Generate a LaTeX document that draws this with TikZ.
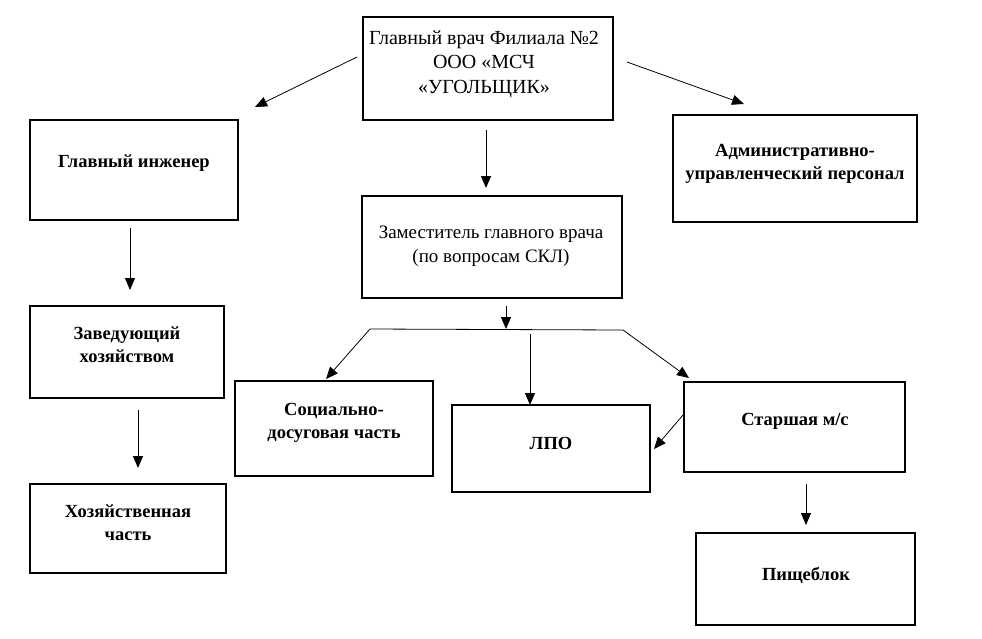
\documentclass[tikz,border=0pt]{standalone}
\usepackage{fontspec}
\setmainfont{Liberation Serif}
\usetikzlibrary{arrows.meta}
\tikzset{
  box/.style={draw, line width=1.6pt, inner sep=0pt},
  reg/.style={font=\fontsize{19}{24.5}\selectfont, align=center, inner sep=0pt},
  bld/.style={font=\fontsize{18.5}{23}\selectfont\bfseries, align=center, inner sep=0pt},
  arr/.style={line width=0.8pt, -{Triangle[length=12pt,width=10pt]}},
  ln/.style={line width=0.8pt}
}
\newcommand{\mkbox}[5]{\node[box, minimum width={(#4)-(#2)}, minimum height={(#5)-(#3)}] (#1) at ({((#2)+(#4))/2},{((#3)+(#5))/2}) {};}
\begin{document}
\begin{tikzpicture}[x=1pt,y=-1pt]
\useasboundingbox (0,0) rectangle (982,638);
% boxes
\mkbox{top}{363}{17}{613}{120}
\mkbox{eng}{30}{120}{238}{220}
\mkbox{adm}{673}{115}{917}{222}
\mkbox{dep}{362}{196}{622}{298}
\mkbox{zav}{30}{306}{224}{398}
\mkbox{soc}{235}{381}{433}{476}
\mkbox{lpo}{452}{405}{650}{492}
\mkbox{st}{684}{382}{905}{472}
\mkbox{hoz}{30}{484}{226}{573}
\mkbox{pis}{696}{533}{915}{625}
% texts
\node[reg, font=\fontsize{20}{24.5}\selectfont] (topT) at (484,64) {Главный врач Филиала №2\\ООО «МСЧ\\«УГОЛЬЩИК»};
\node[bld] (engT) at (134,163) {Главный инженер};
\node[bld] (admT) at (795,164) {Административно-\\управленческий персонал};
\node[reg] (depT) at (491,246) {Заместитель главного врача\\(по вопросам СКЛ)};
\node[bld] (zavT) at (127,345) {Заведующий\\хозяйством};
\node[bld] (socT) at (334,423) {Социально-\\досуговая часть};
\node[bld] (lpoT) at (551,443) {ЛПО};
\node[bld] (stT) at (795,421) {Старшая м/с};
\node[bld] (hozT) at (128,523) {Хозяйственная\\часть};
\node[bld] (pisT) at (806,575) {Пищеблок};
% connector coordinates
\coordinate (a1) at (357,57);   \coordinate (a2) at (255,107);
\coordinate (b1) at (627,62);   \coordinate (b2) at (744,104);
\coordinate (c1) at (486,130);  \coordinate (c2) at (486,188);
\coordinate (d1) at (130,228);  \coordinate (d2) at (130,290);
\coordinate (e1) at (138,410);  \coordinate (e2) at (138,468);
\coordinate (f1) at (506,306);  \coordinate (f2) at (506,329);
\coordinate (hl) at (370,329);  \coordinate (hr) at (623,330);
\coordinate (g2) at (326,379);
\coordinate (h1) at (530,334);  \coordinate (h2) at (530,405);
\coordinate (i2) at (689,378);
\coordinate (j1) at (683,415);  \coordinate (j2) at (654,449);
\coordinate (k1) at (806,484);  \coordinate (k2) at (806,525);
% connectors
\draw[arr] (a1) -- (a2);
\draw[arr] (b1) -- (b2);
\draw[arr] (c1) -- (c2);
\draw[arr] (d1) -- (d2);
\draw[arr] (e1) -- (e2);
\draw[arr] (f1) -- (f2);
\draw[ln] (hl) -- (hr);
\draw[arr] (hl) -- (g2);
\draw[arr] (h1) -- (h2);
\draw[arr] (hr) -- (i2);
\draw[arr] (j1) -- (j2);
\draw[arr] (k1) -- (k2);
\end{tikzpicture}
\end{document}
